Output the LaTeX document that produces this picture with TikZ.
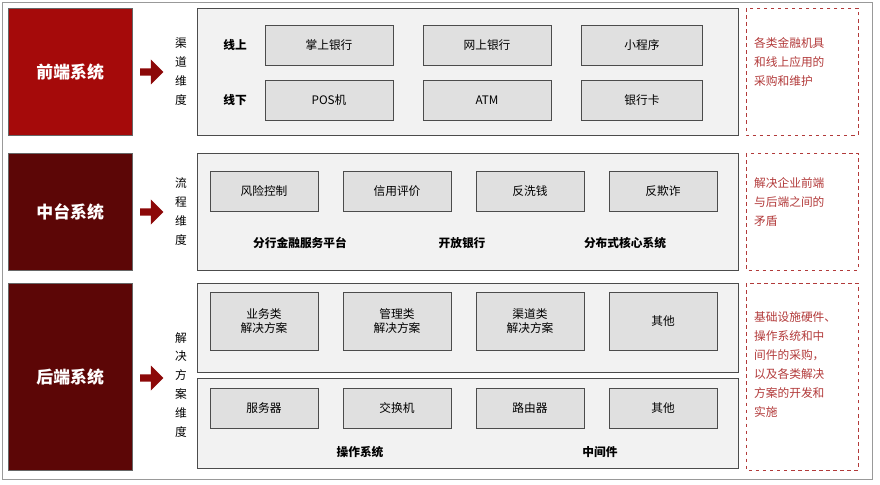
\documentclass[tikz,border=0pt]{standalone}
\usepackage{fontspec}
\setmainfont{Noto Sans CJK SC}
\usetikzlibrary{shapes.arrows}
\definecolor{frontred}{HTML}{A50A0A}
\definecolor{darkred}{HTML}{5C0606}
\definecolor{notered}{HTML}{B23A3A}
\tikzset{
  sysbox/.style={draw=black!60,text=white,font=\bfseries\Large,minimum width=3.72cm,minimum height=#1,anchor=north west},
  panel/.style={draw=black!70,fill=black!5,thick},
  itembox/.style={draw=black!70,fill=black!12,minimum width=3.24cm,minimum height=1.2cm},
  notebox/.style={draw=notered,dashed,thick},
  notetext/.style={text=notered,align=left,anchor=north west,font=\linespread{1.35}\selectfont},
  dimtext/.style={align=center,font=\linespread{1.35}\selectfont},
  tag/.style={font=\bfseries},
  sarrow/.style={single arrow,fill=frontred!85!black,minimum height=0.7cm,minimum width=0.75cm,single arrow head extend=3,inner sep=1},
}
\begin{document}
\begin{tikzpicture}[x=0.03cm,y=-0.03cm]
\useasboundingbox (0,0) rectangle (880,485);
\draw[black!40] (2,2) rectangle (872,479);
% left systems
\node[sysbox=3.81cm,fill=frontred] (fe) at (8,8) {前端系统};
\node[sysbox=3.51cm,fill=darkred] (mid) at (8,153) {中台系统};
\node[sysbox=5.61cm,fill=darkred] (be) at (8,283) {后端系统};
\node[sarrow] (a1) at (150,72) {};
\node[sarrow] (a2) at (150,212) {};
\node[sarrow] (a3) at (150,378) {};
% dimension labels
\node[dimtext] (d1) at (181,72) {渠\\道\\维\\度};
\node[dimtext] (d2) at (181,212) {流\\程\\维\\度};
\node[dimtext,inner sep=0] (d3) at (181,385) {解\\决\\方\\案\\维\\度};
% panels
\draw[panel] (197,8) rectangle (738,135);
\draw[panel] (197,153) rectangle (738,270);
\draw[panel] (197,283) rectangle (738,372);
\draw[panel] (197,378) rectangle (738,468);
% front
\node[tag] (on) at (235,45) {线上};
\node[tag] (off) at (235,100) {线下};
\node[itembox,minimum width=3.84cm] (b1) at (329,45) {掌上银行};
\node[itembox,minimum width=3.84cm] (b2) at (487,45) {网上银行};
\node[itembox,minimum width=3.63cm] (b3) at (642,45) {小程序};
\node[itembox,minimum width=3.84cm] (b4) at (329,100) {POS机};
\node[itembox,minimum width=3.84cm] (b5) at (487,100) {ATM};
\node[itembox,minimum width=3.63cm] (b6) at (642,100) {银行卡};
% middle
\foreach \t [count=\i] in {风险控制,信用评价,反洗钱,反欺诈}
  \node[itembox] (m\i) at (264+133*\i-133,191) {\t};
\node[tag] (p1) at (300,243) {分行金融服务平台};
\node[tag] (p2) at (462,243) {开放银行};
\node[tag] (p3) at (625,243) {分布式核心系统};
% back
\node[itembox,minimum height=1.74cm,align=center] (s1) at (264,321) {业务类\\解决方案};
\node[itembox,minimum height=1.74cm,align=center] (s2) at (397,321) {管理类\\解决方案};
\node[itembox,minimum height=1.74cm,align=center] (s3) at (530,321) {渠道类\\解决方案};
\node[itembox,minimum height=1.74cm,align=center] (s4) at (663,321) {其他};
\foreach \t [count=\i] in {服务器,交换机,路由器,其他}
  \node[itembox] (h\i) at (264+133*\i-133,408) {\t};
\node[tag] (o1) at (360,452) {操作系统};
\node[tag] (o2) at (600,452) {中间件};
% notes
\draw[notebox] (746,8) rectangle (858,135);
\draw[notebox] (746,153) rectangle (858,270);
\draw[notebox] (746,283) rectangle (858,470);
\node[notetext] (n1) at (750,33) {各类金融机具\\和线上应用的\\采购和维护};
\node[notetext] (n2) at (750,173) {解决企业前端\\与后端之间的\\矛盾};
\node[notetext] (n3) at (750,308) {基础设施硬件、\\操作系统和中\\间件的采购，\\以及各类解决\\方案的开发和\\实施};
\end{tikzpicture}
\end{document}
